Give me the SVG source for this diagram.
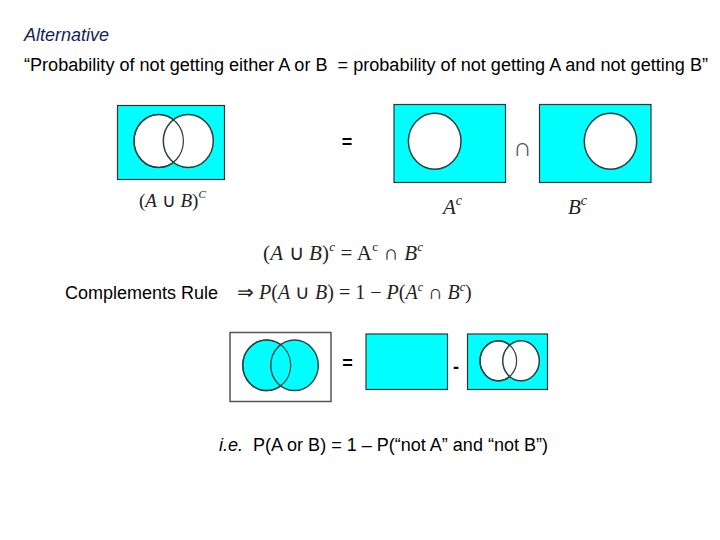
<svg xmlns="http://www.w3.org/2000/svg" width="720" height="540" viewBox="0 0 720 540">
<style>
.sans{font-family:"Liberation Sans",Arial,sans-serif;fill:#000}
.math{font-family:"Liberation Serif","Times New Roman",serif;fill:#222}
.it{font-style:italic}
.op{font-weight:bold}
.cy{fill:#00FFFF;stroke:#333;stroke-width:1.2}
.wc{fill:#fff;stroke:#2a3f3f;stroke-width:1.5}
.cc{fill:#00FFFF;stroke:#2a4a4a;stroke-width:1.5}
.ol{fill:none;stroke:#2a3f3f;stroke-width:1.2}
</style>
<rect width="720" height="540" fill="#fff"/>
<text class="sans it" x="24" y="41" font-size="18" style="fill:#13235a">Alternative</text>
<text class="sans" x="24" y="71" font-size="18" textLength="684" lengthAdjust="spacingAndGlyphs">“Probability of not getting either A or B &#160;= probability of not getting A and not getting B”</text>

<g id="union-complement">
<rect class="cy" x="117.5" y="105.5" width="107" height="74"/>
<ellipse class="wc" cx="158.7" cy="141" rx="24.7" ry="26.5"/>
<ellipse class="wc" cx="188.3" cy="141" rx="25" ry="26.5"/>
<ellipse class="ol" cx="158.7" cy="141" rx="24.7" ry="26.5"/>
<text class="math" x="139" y="207" font-size="19">(<tspan class="it">A</tspan> ∪ <tspan class="it">B</tspan>)<tspan class="it" font-size="11" dy="-9">C</tspan></text>
</g>
<text class="sans op" x="347" y="148" font-size="18" text-anchor="middle">=</text>
<g id="a-complement">
<rect class="cy" x="394" y="104.5" width="111.5" height="78"/>
<ellipse class="wc" cx="434.7" cy="141.3" rx="26.3" ry="28"/>
<text class="math it" x="443" y="214" font-size="21">A<tspan font-size="14" dy="-9">c</tspan></text>
</g>
<text class="math" x="522.5" y="156" font-size="26" text-anchor="middle" style="fill:#555">∩</text>
<g id="b-complement">
<rect class="cy" x="539.5" y="104.5" width="111.5" height="78"/>
<ellipse class="wc" cx="610.5" cy="141.3" rx="26.2" ry="28"/>
<text class="math it" x="568" y="214" font-size="21">B<tspan font-size="14" dy="-9">c</tspan></text>
</g>

<text class="math" x="263" y="260" font-size="21" textLength="160" lengthAdjust="spacing">(<tspan class="it">A</tspan> ∪ <tspan class="it">B</tspan>)<tspan class="it" font-size="13" dy="-9">c</tspan><tspan dy="9"> = A</tspan><tspan font-size="13" dy="-9">c</tspan><tspan dy="9"> ∩ </tspan><tspan class="it">B</tspan><tspan class="it" font-size="13" dy="-9">c</tspan></text>

<text class="sans" x="65" y="299" font-size="18">Complements Rule</text>
<text class="math" x="237" y="299" font-size="20">⇒ <tspan class="it">P</tspan>(<tspan class="it">A</tspan> ∪ <tspan class="it">B</tspan>) = 1 − <tspan class="it">P</tspan>(<tspan class="it">A</tspan><tspan class="it" font-size="12" dy="-8">c</tspan><tspan dy="8"> ∩ </tspan><tspan class="it">B</tspan><tspan class="it" font-size="12" dy="-8">c</tspan><tspan dy="8">)</tspan></text>

<g id="union">
<rect x="230" y="332.5" width="101" height="69" fill="#fff" stroke="#555" stroke-width="1.5"/>
<ellipse class="cc" cx="266.7" cy="365.3" rx="24" ry="25.3"/>
<ellipse class="cc" cx="294.5" cy="365.3" rx="23.8" ry="25.3"/>
<ellipse class="ol" cx="266.7" cy="365.3" rx="24" ry="25.3"/>
</g>
<text class="sans op" x="347.5" y="369" font-size="18" text-anchor="middle">=</text>
<g id="sample-space">
<rect class="cy" x="366" y="334" width="81.5" height="55.5"/>
</g>
<text class="sans op" x="456" y="373" font-size="18" text-anchor="middle">-</text>
<g id="union-complement-2">
<rect class="cy" x="467.5" y="334" width="80" height="55.5"/>
<ellipse class="wc" cx="498.3" cy="360.8" rx="18.3" ry="20"/>
<ellipse class="wc" cx="521" cy="360.8" rx="18.3" ry="20"/>
<ellipse class="ol" cx="498.3" cy="360.8" rx="18.3" ry="20"/>
</g>

<text class="sans" x="219" y="451" font-size="18" textLength="329" lengthAdjust="spacingAndGlyphs"><tspan class="it">i.e.</tspan> &#160;P(A or B) = 1 – P(“not A” and “not B”)</text>
</svg>
